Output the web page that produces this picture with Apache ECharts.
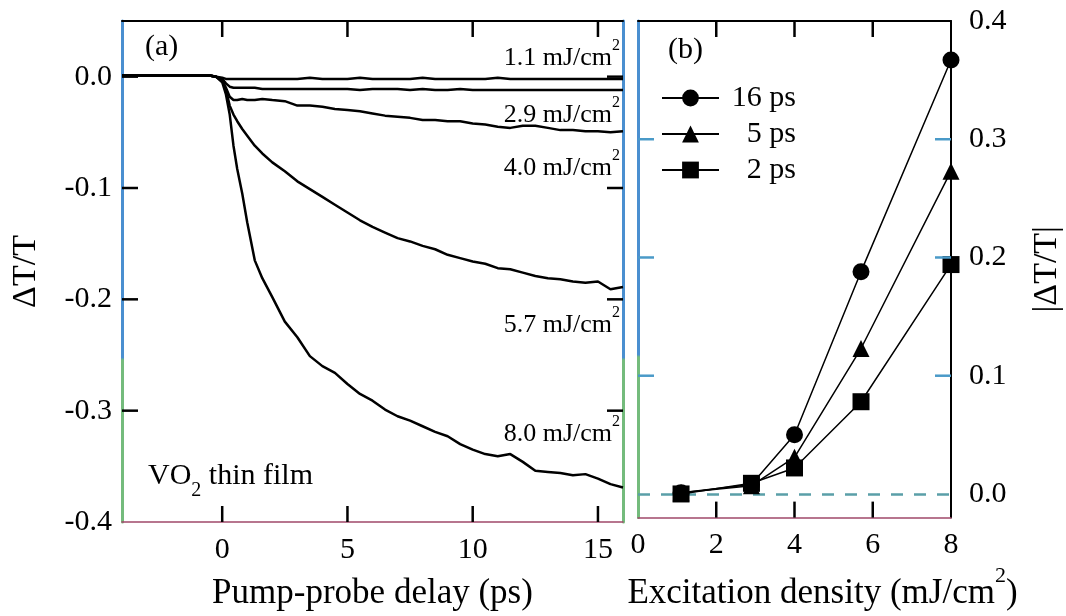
<!DOCTYPE html>
<html>
<head>
<meta charset="utf-8">
<script src="https://cdn.jsdelivr.net/npm/echarts@6/dist/echarts.min.js"></script>
<style>
html,body{margin:0;padding:0;background:#fff;}
#chart{width:1066px;height:616px;}
</style>
</head>
<body>
<div id="chart"></div>
<script>
// ---- Panel (a): transient transmission change of the VO2 film vs pump-probe delay ----
const delay = [-4, -3, -2, -1, -0.5, -0.25,
  0, 0.15, 0.3, 0.45, 0.6, 0.8, 1.0, 1.3, 1.6, 2.0,
  2.5, 3.0, 3.5, 4.0, 4.5, 5.0, 5.5, 6.0, 6.5, 7.0, 7.5, 8.0, 8.5, 9.0,
  9.5, 10.0, 10.5, 11.0, 11.5, 12.0, 12.5, 13.0, 13.5, 14.0, 14.5, 15.0, 15.5, 16.0];

// excitation densities (mJ/cm2), shared by both panels
const fluences = [1.1, 2.9, 4.0, 5.7, 8.0];

const dT_1p1 = [0.001, 0.001, 0.001, 0.001, 0.001, 0,
  -0.001, -0.002, -0.002, -0.002, -0.002, -0.002, -0.002, -0.002, -0.002, -0.002,
  -0.002, -0.002, -0.001, -0.002, -0.002, -0.002, -0.001, -0.002, -0.002, -0.002,
  -0.002, -0.001, -0.002, -0.002, -0.002, -0.002, -0.002, -0.001, -0.002, -0.002,
  -0.002, -0.002, -0.002, -0.002, -0.002, -0.002, -0.002, -0.002];
const dT_2p9 = [0.001, 0.001, 0.001, 0.001, 0.001, 0,
  -0.002, -0.006, -0.009, -0.010, -0.010, -0.010, -0.010, -0.010, -0.011, -0.011,
  -0.011, -0.011, -0.011, -0.011, -0.011, -0.011, -0.012, -0.011, -0.011, -0.011,
  -0.012, -0.011, -0.012, -0.012, -0.011, -0.012, -0.012, -0.012, -0.012, -0.012,
  -0.012, -0.012, -0.012, -0.012, -0.012, -0.012, -0.012, -0.012];
const dT_4p0 = [0.001, 0.001, 0.001, 0.001, 0.001, 0,
  -0.003, -0.010, -0.018, -0.021, -0.021, -0.020, -0.021, -0.021, -0.020, -0.021,
  -0.022, -0.026, -0.026, -0.027, -0.029, -0.030, -0.031, -0.033, -0.035, -0.036,
  -0.037, -0.039, -0.039, -0.040, -0.040, -0.042, -0.043, -0.045, -0.046, -0.044,
  -0.044, -0.046, -0.048, -0.048, -0.049, -0.049, -0.050, -0.049];
const dT_5p7 = [0.001, 0.001, 0.001, 0.001, 0.001, 0,
  -0.004, -0.012, -0.026, -0.034, -0.040, -0.047, -0.053, -0.062, -0.069, -0.077,
  -0.085, -0.094, -0.101, -0.108, -0.115, -0.122, -0.129, -0.135, -0.140, -0.145,
  -0.148, -0.152, -0.155, -0.160, -0.163, -0.166, -0.168, -0.172, -0.173, -0.176,
  -0.179, -0.181, -0.182, -0.184, -0.185, -0.184, -0.191, -0.189];
const dT_8p0 = [0.001, 0.001, 0.001, 0.001, 0.001, 0,
  -0.005, -0.016, -0.034, -0.062, -0.083, -0.105, -0.131, -0.165, -0.181, -0.198,
  -0.220, -0.234, -0.251, -0.260, -0.266, -0.276, -0.285, -0.291, -0.299, -0.305,
  -0.309, -0.314, -0.319, -0.323, -0.330, -0.335, -0.339, -0.341, -0.339, -0.346,
  -0.354, -0.355, -0.356, -0.358, -0.357, -0.361, -0.366, -0.369];
const curvesA = [dT_1p1, dT_2p9, dT_4p0, dT_5p7, dT_8p0];

// ---- Panel (b): |dT/T| vs excitation density at fixed delays ----
const delayNames = ['16 ps', '5 ps', '2 ps'];
const amp16ps = [0.001, 0.008, 0.050, 0.188, 0.367];
const amp5ps  = [0.001, 0.007, 0.031, 0.123, 0.273];
const amp2ps  = [0.000, 0.009, 0.022, 0.078, 0.194];
const markers = ['circle', 'triangle', 'rect'];

// tick values
const tickA_x = [0, 5, 10, 15];
const tickA_y = [-0.4, -0.3, -0.2, -0.1, 0.0];
const tickA_yMarks = [-0.3, -0.2, -0.1, 0.0];
const tickB_x = [0, 2, 4, 6, 8];
const tickB_xMarks = [2, 4, 6];
const tickB_y = [0.0, 0.1, 0.2, 0.3, 0.4];
const tickB_yMarks = [0.1, 0.2, 0.3];

const FONT = '"Liberation Serif", "Times New Roman", serif';
const fmt1 = v => v.toFixed(1);
const TICK_LEN = 16;

// vertical frame lines: blue in the upper part, green toward the bottom
const frameColor = new echarts.graphic.LinearGradient(0, 0, 0, 1, [
  { offset: 0, color: '#4a8fd0' },
  { offset: 0.67, color: '#4a8fd0' },
  { offset: 0.675, color: '#74bb7c' },
  { offset: 1, color: '#74bb7c' }
]);

function xAx(grid, pos, min, max, labels, extra) {
  return Object.assign({
    type: 'value', gridIndex: grid, position: pos, min: min, max: max,
    splitLine: { show: false },
    axisLine: { show: true, onZero: false,
      lineStyle: pos === 'top' ? { color: '#000', width: 2 } : { color: '#a0486a', width: 1.5 } },
    axisTick: { show: false },
    axisLabel: labels ? { show: true, customValues: labels, margin: 13,
      fontSize: 30, fontFamily: FONT, color: '#000' } : { show: false }
  }, extra || {});
}
function yAx(grid, pos, min, max, labels, lineStyle, extra) {
  return Object.assign({
    type: 'value', gridIndex: grid, position: pos, min: min, max: max,
    splitLine: { show: false },
    axisLine: { show: true, onZero: false, lineStyle: lineStyle },
    axisTick: { show: false },
    axisLabel: labels ? { show: true, customValues: labels, formatter: fmt1,
      margin: pos === 'left' ? 10 : 18, fontSize: 30, fontFamily: FONT, color: '#000' } : { show: false }
  }, extra || {});
}

const nameStyle = { fontSize: 34, fontFamily: FONT, color: '#000' };

const option = {
  animation: false,
  backgroundColor: '#fff',
  grid: [
    { left: 122, top: 21, width: 501, height: 502 },
    { left: 638, top: 21, width: 313, height: 502 }
  ],
  xAxis: [
    xAx(0, 'bottom', -4, 16, tickA_x, {
      name: 'Pump-probe delay (ps)', nameLocation: 'middle', nameGap: 54,
      nameTextStyle: { fontSize: 35, fontFamily: FONT, color: '#000' } }),
    xAx(0, 'top', -4, 16, null),
    xAx(1, 'bottom', 0, 8, tickB_x, {
      name: '{t|Excitation density (mJ/cm}{s|2}{t|)}', nameLocation: 'middle', nameGap: 46,
      nameTextStyle: { fontSize: 35, fontFamily: FONT, color: '#000', padding: [0, 0, 0, 56],
        rich: { t: { fontSize: 35, fontFamily: FONT, lineHeight: 56 },
                s: { fontSize: 22, fontFamily: FONT, lineHeight: 24, verticalAlign: 'top' } } } }),
    xAx(1, 'top', 0, 8, null)
  ],
  yAxis: [
    yAx(0, 'left', -0.4, 0.05, tickA_y, { color: frameColor, width: 3 }, {
      name: 'ΔT/T', nameLocation: 'middle', nameGap: 79, nameRotate: 90, nameTextStyle: nameStyle }),
    yAx(0, 'right', -0.4, 0.05, null, { color: frameColor, width: 3 }),
    yAx(1, 'left', -0.02, 0.4, null, { color: frameColor, width: 3 }),
    yAx(1, 'right', -0.02, 0.4, tickB_y, { color: '#000', width: 2 }, {
      name: '|ΔT/T|', nameLocation: 'middle', nameGap: 79, nameRotate: 90, nameTextStyle: nameStyle })
  ],
  legend: {
    data: delayNames, orient: 'vertical', left: 656, top: 78,
    itemWidth: 57, itemHeight: 21, itemGap: 6, selectedMode: false,
    formatter: n => '{r|' + n + '}',
    textStyle: { fontFamily: FONT, fontSize: 30, color: '#000',
      rich: { r: { width: 72, align: 'right', fontSize: 30, fontFamily: FONT, lineHeight: 31 } } }
  },
  series: [
    ...curvesA.map(vals => ({
      type: 'line', xAxisIndex: 0, yAxisIndex: 0, silent: true,
      symbol: 'none', showSymbol: false,
      lineStyle: { color: '#000', width: 2.5 },
      data: delay.map((t, j) => [t, vals[j]])
    })),
    ...[amp16ps, amp5ps, amp2ps].map((vals, k) => ({
      name: delayNames[k], type: 'line', xAxisIndex: 2, yAxisIndex: 3, silent: true,
      symbol: markers[k], symbolSize: 17,
      itemStyle: { color: '#000' },
      lineStyle: { color: '#000', width: 1.5 },
      z: 3 + k,
      data: fluences.map((f, i) => [f, vals[i]]),
      markLine: k === 2 ? {
        silent: true, symbol: ['none', 'none'], label: { show: false }, z: 1,
        lineStyle: { type: [12, 11], color: '#5a9fa8', width: 2.5 },
        data: [{ yAxis: 0 }]
      } : undefined
    }))
  ],
  graphic: [
    { type: 'text', x: 145, y: 47, style: { text: '(a)', fontSize: 30, fontFamily: FONT, fill: '#000', verticalAlign: 'middle' } },
    { type: 'text', x: 668, y: 50, style: { text: '(b)', fontSize: 30, fontFamily: FONT, fill: '#000', verticalAlign: 'middle' } },
    { type: 'text', x: 148, y: 476, style: {
        text: '{m|VO}{b|2}{m| thin film}', fill: '#000', verticalAlign: 'middle',
        rich: { m: { fontSize: 30, fontFamily: FONT, lineHeight: 50 },
                b: { fontSize: 20, fontFamily: FONT, lineHeight: 20, verticalAlign: 'bottom' } } } },
    // density labels beside each trace
    ...fluences.map((f, i) => ({
      type: 'text', x: 620, y: [58, 115, 168, 325, 434][i],
      style: {
        text: '{m|' + f.toFixed(1) + ' mJ/cm}{s|2}', fill: '#000', align: 'right', verticalAlign: 'middle',
        rich: { m: { fontSize: 26, fontFamily: FONT, lineHeight: 40 },
                s: { fontSize: 16, fontFamily: FONT, lineHeight: 16, verticalAlign: 'top' } }
      }
    }))
  ]
};

const chart = echarts.init(document.getElementById('chart'), null, { renderer: 'canvas' });
chart.setOption(option);

// Inward tick marks on all four sides of both frames, placed through the axis scales.
function frameTicks(xi, yi, xMin, xMax, yMin, yMax, xVals, yVals, xColor, yColor) {
  const px = v => chart.convertToPixel({ xAxisIndex: xi }, v);
  const py = v => chart.convertToPixel({ yAxisIndex: yi }, v);
  const L = px(xMin), R = px(xMax), T = py(yMax), B = py(yMin);
  const out = [];
  const seg = (x1, y1, x2, y2, c) => out.push({
    type: 'line', silent: true, z: 50,
    shape: { x1: x1, y1: y1, x2: x2, y2: y2 },
    style: { stroke: c, lineWidth: 2.5 }
  });
  xVals.forEach(v => {
    const x = px(v);
    seg(x, T, x, T + TICK_LEN, xColor);
    seg(x, B, x, B - TICK_LEN, xColor);
  });
  yVals.forEach(v => {
    const y = py(v);
    seg(L, y, L + TICK_LEN, y, yColor);
    seg(R, y, R - TICK_LEN, y, yColor);
  });
  return out;
}

const tickMarks = [
  ...frameTicks(0, 0, -4, 16, -0.4, 0.05, tickA_x, tickA_yMarks, '#000', '#000'),
  ...frameTicks(2, 3, 0, 8, -0.02, 0.4, tickB_xMarks, tickB_yMarks, '#000', '#4a9ac8')
];
chart.setOption({ graphic: option.graphic.concat(tickMarks) });
</script>
</body>
</html>
